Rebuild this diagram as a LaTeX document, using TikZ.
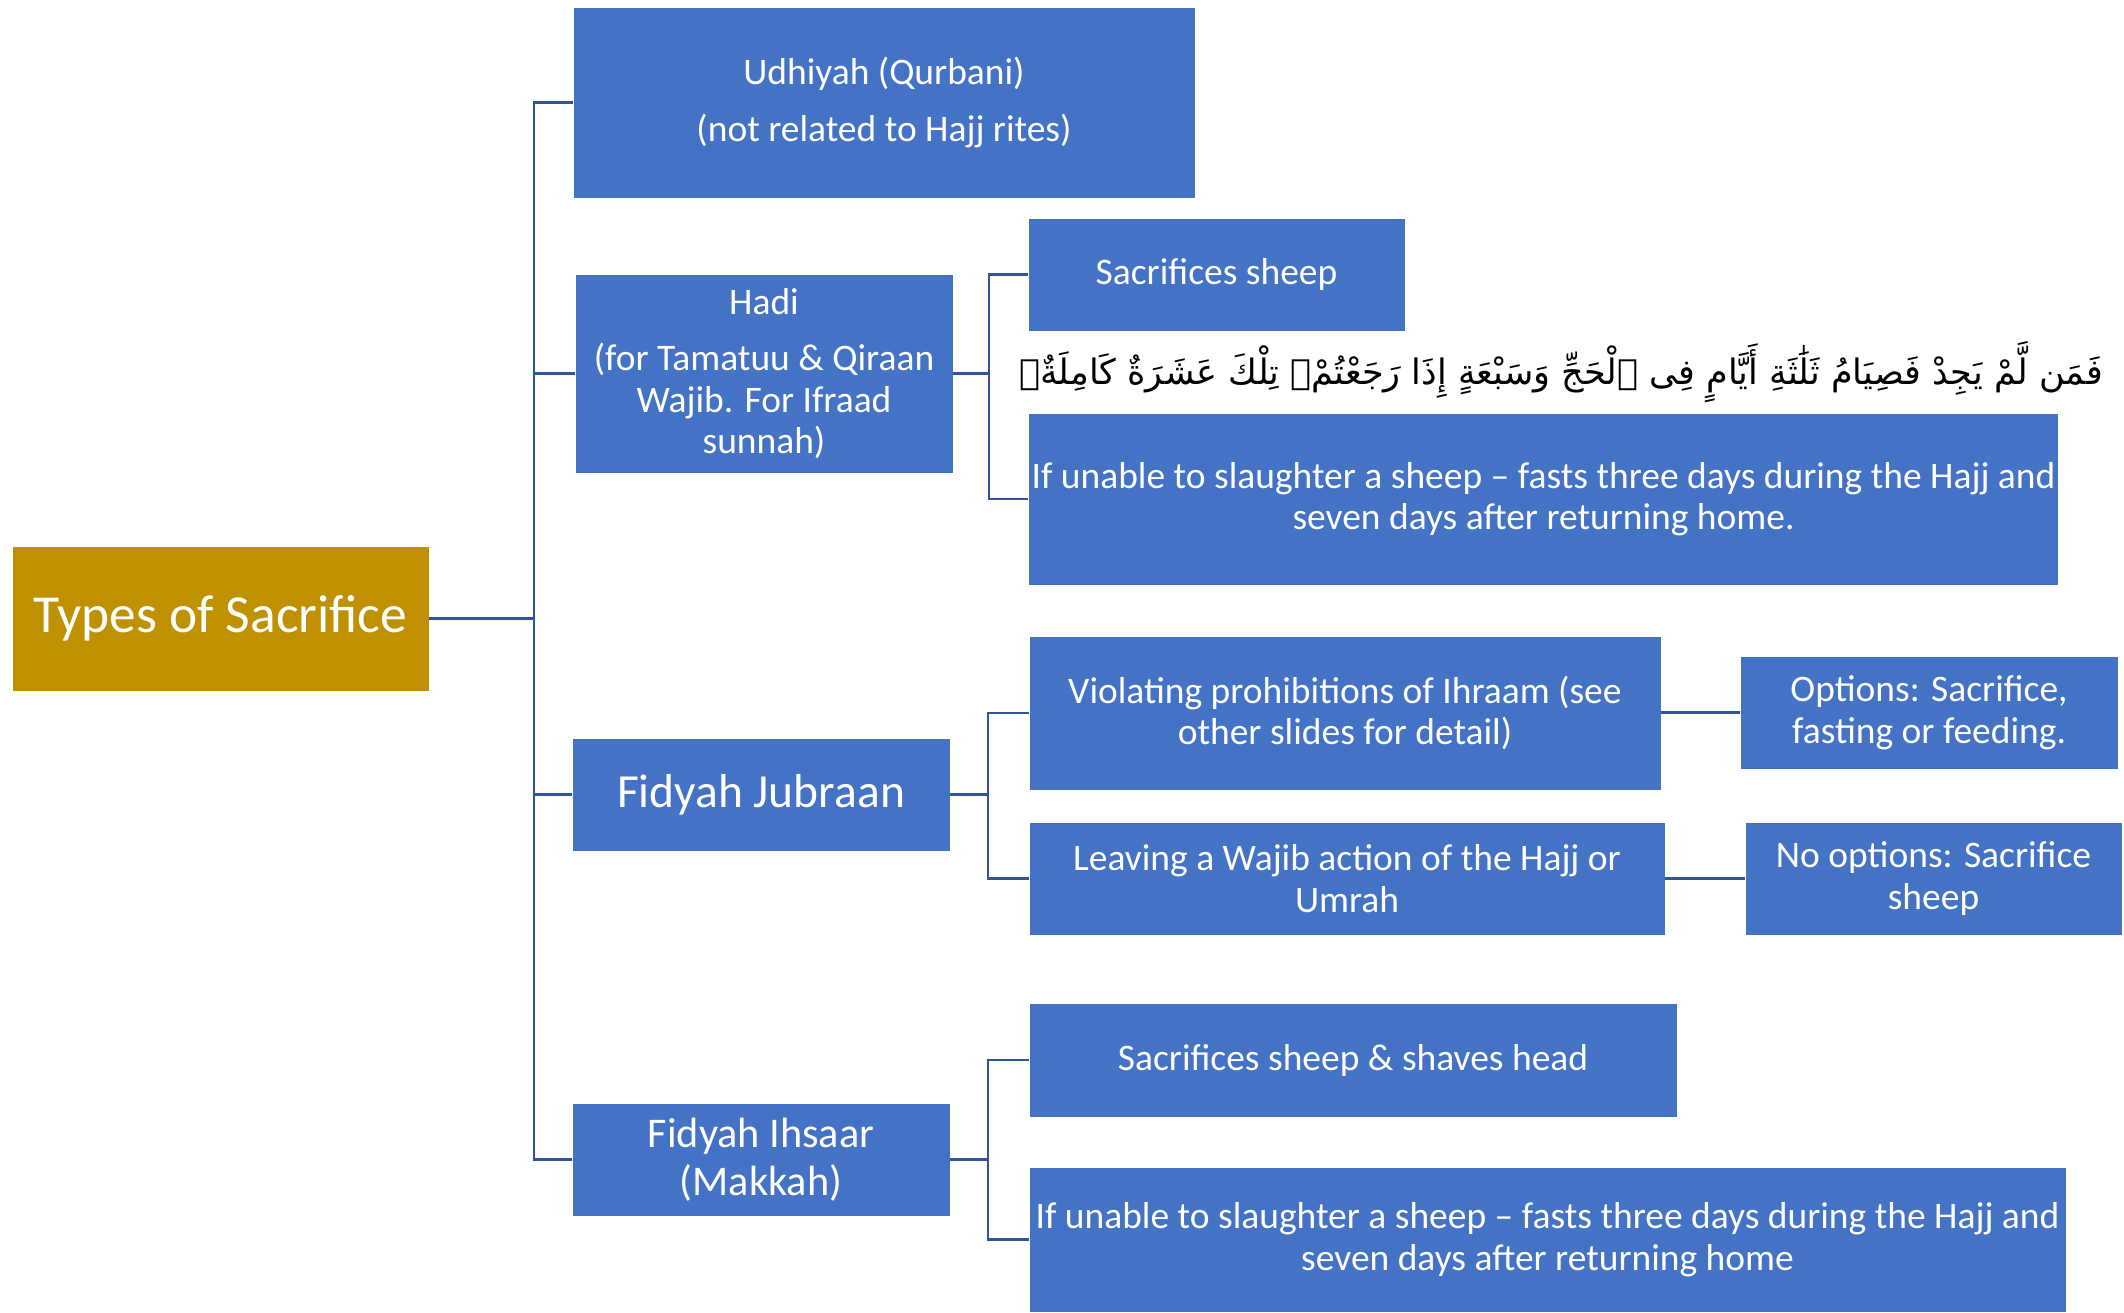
\documentclass[tikz,border=0pt]{standalone}
\usepackage{fontspec}
\setmainfont{Carlito}
\newfontfamily\arabicfont[Script=Arabic]{DejaVu Sans}
\TeXXeTstate=1
\definecolor{boxblue}{HTML}{4472C4}
\definecolor{rootgold}{HTML}{BF9000}
\definecolor{linkblue}{HTML}{2F5597}
\begin{document}
\begin{tikzpicture}[x=1pt,y=-1pt,
  box/.style={rectangle, fill=boxblue, draw=white, line width=0.8pt, text=white, align=center, inner sep=0pt,
    font=\fontsize{37.5}{41.5}\selectfont},
  rootbox/.style={box, fill=rootgold, font=\fontsize{53.5}{60}\selectfont},
  conn/.style={draw=linkblue, line width=2.2pt},
  rootconn/.style={draw=linkblue, line width=3pt}]
\useasboundingbox (0,0) rectangle (2124,1312);
\fill[white] (0,0) rectangle (2124,1312);

% level 0
\node[rootbox, minimum width=417, minimum height=145] (root) at (220.5,618.5) {Types of Sacrifice};

% level 1
\node[box, minimum width=622, minimum height=191] (udh) at (884,102.5) {Udhiyah (Qurbani)\\[15pt](not related to Hajj rites)};
\node[box, minimum width=378, minimum height=199] (hadi) at (764,373.5) {Hadi\\[15pt](for Tamatuu \& Qiraan\\Wajib. For Ifraad\\sunnah)};
\node[box, minimum width=378, minimum height=113, font=\fontsize{47.5}{54}\selectfont] (fj) at (761,794.5) {Fidyah Jubraan};
\node[box, minimum width=378, minimum height=113, font=\fontsize{42.3}{48}\selectfont] (fi) at (761,1159.5) {Fidyah Ihsaar\\(Makkah)};

% level 2
\node[box, minimum width=377, minimum height=113] (ss) at (1216.5,274.5) {Sacrifices sheep};
\node[inner sep=0pt, font=\arabicfont\fontsize{35}{40}\selectfont] (ayah) at (1561,372) {\beginR فَمَن لَّمْ يَجِدْ فَصِيَامُ ثَلَٰثَةِ أَيَّامٍ فِى ٱلْحَجِّ وَسَبْعَةٍ إِذَا رَجَعْتُمْۗ تِلْكَ عَشَرَةٌ كَامِلَةٌۗ\endR};
\node[box, minimum width=1030, minimum height=172] (iu1) at (1543.5,499) {If unable to slaughter a sheep -- fasts three days during the Hajj and\\seven days after returning home.};
\node[box, minimum width=632, minimum height=154] (viol) at (1345,713) {Violating prohibitions of Ihraam (see\\other slides for detail)};
\node[box, minimum width=636, minimum height=113] (leave) at (1347,878.5) {Leaving a Wajib action of the Hajj or\\Umrah};
\node[box, minimum width=648, minimum height=114] (shave) at (1353,1060) {Sacrifices sheep \& shaves head};
\node[box, minimum width=1037, minimum height=145] (iu2) at (1547.5,1239.5) {If unable to slaughter a sheep -- fasts three days during the Hajj and\\seven days after returning home};

% level 3
\node[box, minimum width=378, minimum height=113] (opt) at (1929,712.5) {Options: Sacrifice,\\fasting or feeding.};
\node[box, minimum width=377, minimum height=113] (noopt) at (1933.5,878.5) {No options: Sacrifice\\sheep};

% trunk coordinates
\coordinate (t0) at (534,618.5);
\coordinate (t1) at (989,373.5);
\coordinate (t2) at (988,794.5);
\coordinate (t3) at (988,1159.5);

% connectors
\draw[rootconn] (root.east) -- (t0);
\draw[conn] (t0) |- (udh.west);
\draw[conn] (t0) |- (hadi.west);
\draw[conn] (t0) |- (fj.west);
\draw[conn] (t0) |- (fi.west);

\draw[conn] (hadi.east) -- (t1);
\draw[conn] (t1) |- (ss.west);
\draw[conn] (t1) |- (iu1.west);

\draw[conn] (fj.east) -- (t2);
\draw[conn] (t2) |- (viol.west);
\draw[conn] (t2) |- (leave.west);

\draw[conn] (fi.east) -- (t3);
\draw[conn] (t3) |- (shave.west);
\draw[conn] (t3) |- (iu2.west);

\draw[conn] (viol.east |- opt.west) -- (opt.west);
\draw[conn] (leave.east) -- (noopt.west);
\end{tikzpicture}
\end{document}
